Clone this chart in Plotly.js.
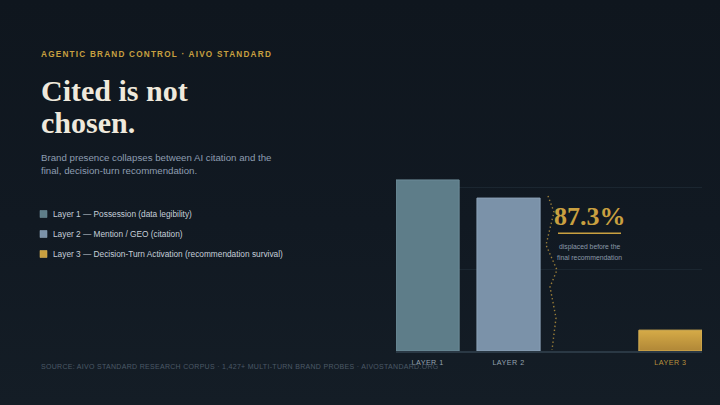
<!DOCTYPE html>
<html><head><meta charset="utf-8">
<script src="https://cdn.plot.ly/plotly-3.0.1.min.js"></script>
<style>
html,body{margin:0;padding:0;background:#10171f;}
#chart{width:720px;height:405px;background:linear-gradient(180deg,#0f161e 0%,#111922 55%,#141d26 100%);}
.annotation[data-index="0"] text{letter-spacing:1.22px;}
.annotation[data-index="8"] text{letter-spacing:0.3px;}
.xtick text{letter-spacing:0.45px;}
.legend .legendpoints path{transform:translate(30.5px,0px) scale(0.583) !important;}
.barlayer .trace:nth-of-type(3) path{fill:url(#goldGrad) !important;}
</style></head>
<body>
<svg width="0" height="0" style="position:absolute"><defs><linearGradient id="goldGrad" x1="0" y1="0" x2="0" y2="1"><stop offset="0" stop-color="#d6ab47"/><stop offset="1" stop-color="#b08737"/></linearGradient></defs></svg>
<div id="chart"></div>
<script>
// ---- data ----
const categories = ["LAYER 1", "LAYER 2", "LAYER 3"];
const slotOrder = ["LAYER 1", "LAYER 2", " ", "LAYER 3"];
const values = [100, 89.4, 12.2];
const legendNames = [
  "Layer 1 — Possession (data legibility)",
  "Layer 2 — Mention / GEO (citation)",
  "Layer 3 — Decision-Turn Activation (recommendation survival)"
];
const headline = "87.3%";
const headlineNote = ["displaced before the", "final recommendation"];
const kicker = "AGENTIC BRAND CONTROL · AIVO STANDARD";
const titleLines = ["Cited is not", "chosen."];
const subtitleLines = ["Brand presence collapses between AI citation and the", "final, decision-turn recommendation."];
const sourceText = "SOURCE: AIVO STANDARD RESEARCH CORPUS · 1,427+ MULTI-TURN BRAND PROBES · AIVOSTANDARD.ORG";

// ---- styles ----
const fills = ["#5e7d89", "#7b92a9", "#c9a040"];
const edges = ["#6d8c98", "#8ca2b7", "#d8b255"];
const tickColors = ["#95a2b0", "#95a2b0", "#b8913c"];
const GOLD = "#c9a040";

// plot area in pixels
const PX0 = 396, PW = 306, PY0 = 351, PH = 201;
const px = x => (x - PX0) / PW;
const py = y => (PY0 - y) / PH;

const traces = categories.map((c, i) => ({
  type: "bar",
  x: [c],
  y: [values[i]],
  name: legendNames[i],
  legendgroup: "g" + i,
  marker: {color: fills[i], line: {color: edges[i], width: 1}},
  hoverinfo: "skip"
}));

const sans = "Liberation Sans, Arial, sans-serif";
const serif = "Liberation Serif, Times New Roman, serif";
function ann(text, x, y, size, color, family, xanchor) {
  const a = xanchor || "left";
  return {text, x: px(x), y: py(y), xref: "paper", yref: "paper", showarrow: false,
    xanchor: a, align: a, yanchor: "middle", borderpad: 0,
    font: {size, color, family}};
}
const annotations = [
  ann("<b>" + kicker + "</b>", 40, 54.5, 8.2, "#c8a040", sans),
  ann("<b>" + titleLines[0] + "</b>", 40, 90, 30, "#efe9dc", serif),
  ann("<b>" + titleLines[1] + "</b>", 40, 122.5, 30, "#efe9dc", serif),
  ann(subtitleLines[0], 40, 157, 9.7, "#8e9db1", sans),
  ann(subtitleLines[1], 40, 170, 9.7, "#8e9db1", sans),
  ann("<b>" + headline + "</b>", 589.5, 216.2, 26, GOLD, serif, "center"),
  ann(headlineNote[0], 589.5, 247, 6.8, "#8b99a9", sans, "center"),
  ann(headlineNote[1], 589.5, 257, 6.8, "#8b99a9", sans, "center"),
  ann(sourceText, 40, 366.5, 7, "#4b5966", sans)
];

const zig = [[548,196],[554,212],[546,245],[557,270],[550,287],[556,318],[552,350]];
const zigPath = "M" + zig.map(p => px(p[0]).toFixed(4) + "," + py(p[1]).toFixed(4)).join(" L");

const shapes = [
  {type: "line", xref: "paper", yref: "paper", x0: px(558), x1: px(621), y0: py(233.3), y1: py(233.3),
   line: {color: GOLD, width: 1.6}},
  {type: "path", xref: "paper", yref: "paper", path: zigPath,
   line: {color: "rgba(201,160,64,0.75)", width: 1.4, dash: "1.4px,2.6px"}}
];

const layout = {
  width: 720, height: 405,
  margin: {l: PX0, r: 720 - PX0 - PW, t: PY0 - PH, b: 405 - PY0, pad: 0},
  paper_bgcolor: "rgba(0,0,0,0)", plot_bgcolor: "rgba(0,0,0,0)",
  barmode: "overlay", bargap: 0.22,
  showlegend: true,
  legend: {x: px(13), y: py(199.5), xanchor: "left", yanchor: "top",
    bgcolor: "rgba(0,0,0,0)", borderwidth: 0, tracegroupgap: 1,
    font: {size: 8.3, color: "#c6cfd9", family: sans}},
  xaxis: {type: "category", categoryorder: "array", categoryarray: slotOrder,
    range: [-0.39, 3.39], fixedrange: true,
    tickvals: categories,
    ticktext: categories.map((c, i) => '<span style="color:' + tickColors[i] + '">' + c + '</span>'),
    ticks: "", ticklabelstandoff: 3, showgrid: false, zeroline: false,
    showline: true, linecolor: "#2a3844", linewidth: 2,
    tickfont: {size: 7.2, color: "#95a2b0", family: sans}},
  yaxis: {range: [0, 117.5], tick0: 0, dtick: 47.7, showticklabels: false, ticks: "",
    showgrid: true, gridcolor: "#1b2630", gridwidth: 1, zeroline: false, showline: false, fixedrange: true},
  annotations, shapes,
  hovermode: false
};

Plotly.newPlot("chart", traces, layout, {displayModeBar: false, staticPlot: true});
</script>
</body></html>
